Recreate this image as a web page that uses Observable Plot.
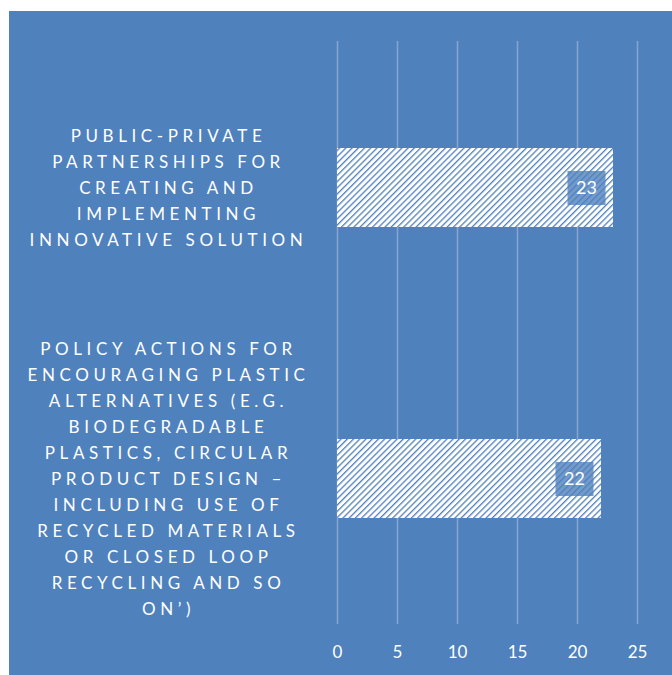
<!DOCTYPE html>
<html>
<head>
<meta charset="utf-8">
<script src="https://cdn.jsdelivr.net/npm/d3@7"></script>
<script src="https://cdn.jsdelivr.net/npm/@observablehq/plot@0.6"></script>
<style>
  html, body { margin: 0; padding: 0; background: #ffffff; }
  #chart svg { display: block; margin-left: 9px; margin-top: 11px; }
  g[aria-label="y-axis tick label"] text { letter-spacing: 4.6px; }
</style>
</head>
<body>
<div id="chart"></div>
<script>
const categories = [
  "PUBLIC-PRIVATE\nPARTNERSHIPS FOR\nCREATING AND\nIMPLEMENTING\nINNOVATIVE SOLUTION",
  "POLICY ACTIONS FOR\nENCOURAGING PLASTIC\nALTERNATIVES (E.G.\nBIODEGRADABLE\nPLASTICS, CIRCULAR\nPRODUCT DESIGN –\nINCLUDING USE OF\nRECYCLED MATERIALS\nOR CLOSED LOOP\nRECYCLING AND SO\nON’)"
];
const values = [23, 22];
const xTicks = [0, 5, 10, 15, 20, 25];

const data = categories.map((c, i) => ({category: c, value: values[i]}));

const boxSymbol = {
  draw(ctx) { ctx.rect(-19, -17, 38, 34); }
};

const chart = Plot.plot({
  width: 663,
  height: 664,
  marginLeft: 328,
  marginRight: 35,
  marginTop: 30,
  marginBottom: 51,
  style: {
    background: "#4f81bd",
    color: "#ffffff",
    fontFamily: "Lato, 'Open Sans', sans-serif",
    fontSize: "17px"
  },
  x: {domain: [0, 25]},
  y: {domain: categories, paddingInner: 0.73, paddingOuter: 0.365},
  marks: [
    Plot.gridX(xTicks, {stroke: "#ffffff", strokeOpacity: 0.3, strokeWidth: 1.5}),
    Plot.barX(data, {x: "value", y: "category", fill: "url(#hatch)"}),
    Plot.dot(data, {x: "value", y: "category", symbol: boxSymbol, r: 5, fill: "#4f81bd", fillOpacity: 0.8, stroke: "none", dx: -27}),
    Plot.text(data, {x: "value", y: "category", text: d => String(d.value), dx: -27, fill: "#ffffff", fontSize: 18}),
    Plot.axisX({ticks: xTicks, tickSize: 0, tickPadding: 21, label: null, fontSize: 17}),
    Plot.axisY({tickSize: 0, tickPadding: 169, textAnchor: "middle", lineHeight: 1.53, dy: -2, label: null, fontSize: 17})
  ]
});

d3.select(chart).insert("defs", ":first-child").html(
  '<pattern id="hatch" patternUnits="userSpaceOnUse" width="4.4" height="4.4" patternTransform="rotate(45)">' +
  '<rect width="4.4" height="4.4" fill="#ffffff"></rect>' +
  '<rect x="0" y="0" width="1.3" height="4.4" fill="#4f81bd"></rect>' +
  '</pattern>'
);

document.getElementById("chart").appendChild(chart);
</script>
</body>
</html>
